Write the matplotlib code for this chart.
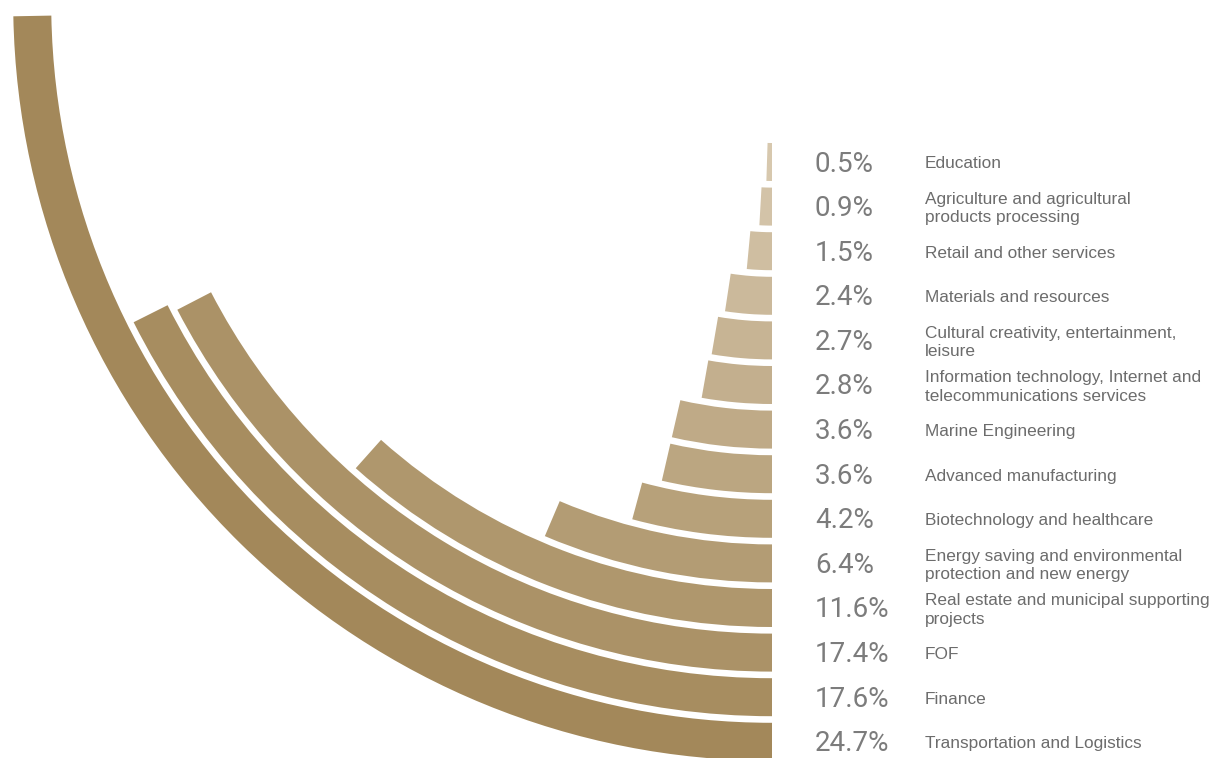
import numpy as np
import matplotlib.pyplot as plt
from matplotlib.colors import LinearSegmentedColormap

# data, listed from the inner ring (top) to the outer ring (bottom)
sectors = [
    "Education",
    "Agriculture and agricultural\nproducts processing",
    "Retail and other services",
    "Materials and resources",
    "Cultural creativity, entertainment,\nleisure",
    "Information technology, Internet and\ntelecommunications services",
    "Marine Engineering",
    "Advanced manufacturing",
    "Biotechnology and healthcare",
    "Energy saving and environmental\nprotection and new energy",
    "Real estate and municipal supporting\nprojects",
    "FOF",
    "Finance",
    "Transportation and Logistics",
]
shares = [0.5, 0.9, 1.5, 2.4, 2.7, 2.8, 3.6, 3.6, 4.2, 6.4, 11.6, 17.4, 17.6, 24.7]

W, H, DPI = 1224, 758, 100
cx, cy = 772, 2          # circle centre in image pixels (from top-left)
R = 780                  # radial limit, one unit = one pixel
r_inner, pitch, thick = 160, 44.6, 38

fig = plt.figure(figsize=(W / DPI, H / DPI), dpi=DPI)
ax = fig.add_axes([(cx - R) / W, (H - cy - R) / H, 2 * R / W, 2 * R / H],
                  projection="polar")
ax.set_theta_zero_location("S")
ax.set_theta_direction(-1)
ax.set_ylim(0, R)
ax.axis("off")

cmap = LinearSegmentedColormap.from_list("gold", ["#D7C8AE", "#A3885A"])
n = len(shares)
radii = r_inner + pitch * np.arange(n)
colors = [cmap(i / (n - 1)) for i in range(n)]

ax.barh(radii, np.deg2rad(np.array(shares) * 3.6), left=0, height=thick,
        color=colors, linewidth=0, align="center")

for r, v, name in zip(radii, shares, sectors):
    ax.annotate(f"{v}%", xy=(0, r), xytext=(43, -2), textcoords="offset pixels",
                ha="left", va="center", fontsize=20, color="#7c7c7c",
                family="Roboto")
    ax.annotate(name, xy=(0, r), xytext=(153, -2), textcoords="offset pixels",
                ha="left", va="center", fontsize=12.4, color="#6c6c6c",
                family="Liberation Sans", linespacing=1.3)

fig.savefig("out.png", dpi=DPI)
